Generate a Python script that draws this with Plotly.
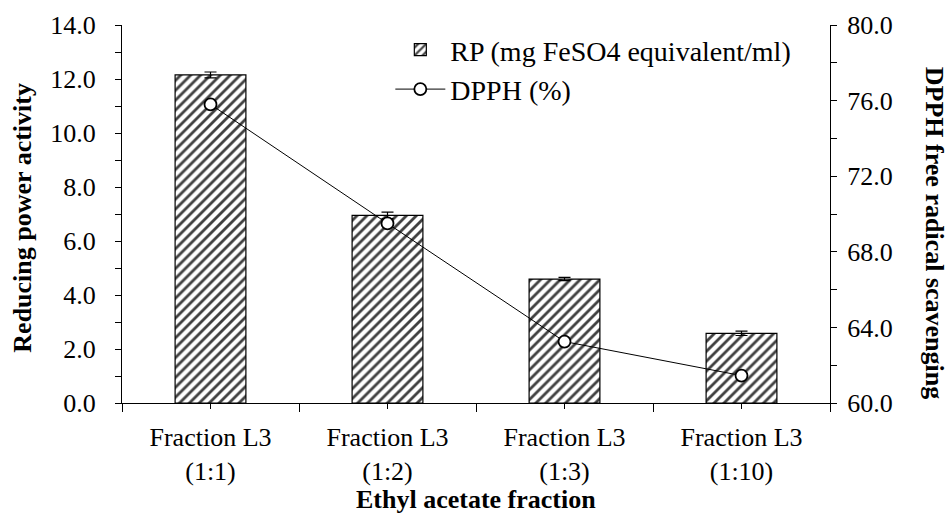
import plotly.graph_objects as go

# ---- data ----
categories = ["Fraction L3 (1:1)", "Fraction L3 (1:2)", "Fraction L3 (1:3)", "Fraction L3 (1:10)"]
tick_labels = ["Fraction L3<br>(1:1)", "Fraction L3<br>(1:2)", "Fraction L3<br>(1:3)", "Fraction L3<br>(1:10)"]
rp_values = [12.15, 6.95, 4.59, 2.58]
rp_errors = [0.11, 0.12, 0.06, 0.08]
dpph_values = [75.8, 69.5, 63.25, 61.45]
left_ticks = [0, 2, 4, 6, 8, 10, 12, 14]
right_ticks = [60, 64, 68, 72, 76, 80]

x_pos = list(range(len(categories)))
FONT = "Liberation Serif, serif"

fig = go.Figure()
fig.add_trace(go.Bar(
    x=x_pos, y=rp_values, name="RP (mg FeSO4 equivalent/ml)",
    width=0.4,
    marker=dict(color="white", line=dict(color="black", width=1.2),
                pattern=dict(shape="/", size=7, solidity=0.4,
                             fgcolor="#404040", bgcolor="white", fillmode="replace")),
    error_y=dict(type="data", array=rp_errors, visible=True, color="black",
                 thickness=1.2, width=6),
    yaxis="y",
))
fig.add_trace(go.Scatter(
    x=x_pos, y=dpph_values, name="DPPH (%)", mode="lines+markers",
    line=dict(color="black", width=1),
    marker=dict(symbol="circle", size=12, color="white", line=dict(color="black", width=1.8)),
    yaxis="y2",
))

axis_common = dict(showgrid=False, zeroline=False, showline=True, linecolor="black",
                   linewidth=1, tickcolor="black",
                   tickfont=dict(family=FONT, size=26, color="black"))

fig.update_layout(
    width=952, height=515,
    margin=dict(l=122, r=122, t=25, b=112),
    plot_bgcolor="white", paper_bgcolor="white",
    font=dict(family=FONT, size=26, color="black"),
    xaxis=dict(**axis_common, range=[-0.5, 3.5], tickmode="array", tickvals=x_pos,
               ticktext=tick_labels, ticks="outside", ticklen=5,
               minor=dict(tickmode="linear", tick0=-0.5, dtick=1, ticks="outside",
                          ticklen=8, tickcolor="black", showgrid=False),
               ticklabelstandoff=6),
    yaxis=dict(**axis_common, range=[0, 14], tickmode="array", tickvals=left_ticks,
               tickformat=".1f", ticks="outside", ticklen=6,
               minor=dict(dtick=1, ticks="outside", ticklen=6, tickcolor="black", showgrid=False),
               ticklabelstandoff=14),
    yaxis2=dict(**axis_common, range=[60, 80], overlaying="y", side="right",
                tickmode="array", tickvals=right_ticks, tickformat=".1f",
                ticks="outside", ticklen=6,
                minor=dict(dtick=2, ticks="outside", ticklen=6, tickcolor="black", showgrid=False),
                ticklabelstandoff=5),
    legend=dict(x=0.379, y=1.0, xanchor="left", yanchor="top",
                font=dict(family=FONT, size=28, color="black"),
                bgcolor="rgba(0,0,0,0)", itemwidth=50, tracegroupgap=0),
    showlegend=True,
    annotations=[
        dict(text="<b>Reducing power activity</b>", xref="paper", yref="paper",
             x=-0.14, y=0.49, textangle=-90, showarrow=False,
             font=dict(family=FONT, size=26, color="black"), xanchor="center", yanchor="middle"),
        dict(text="<b>DPPH free radical scavenging</b>", xref="paper", yref="paper",
             x=1.147, y=0.45, textangle=90, showarrow=False,
             font=dict(family=FONT, size=26, color="black"), xanchor="center", yanchor="middle"),
        dict(text="<b>Ethyl acetate fraction</b>", xref="paper", yref="paper",
             x=0.5, y=-0.256, showarrow=False,
             font=dict(family=FONT, size=26, color="black"), xanchor="center", yanchor="middle"),
    ],
)

fig.write_html("out.html", config={"displayModeBar": False},
               post_script="document.body.style.margin='0';document.body.style.overflow='hidden';")
